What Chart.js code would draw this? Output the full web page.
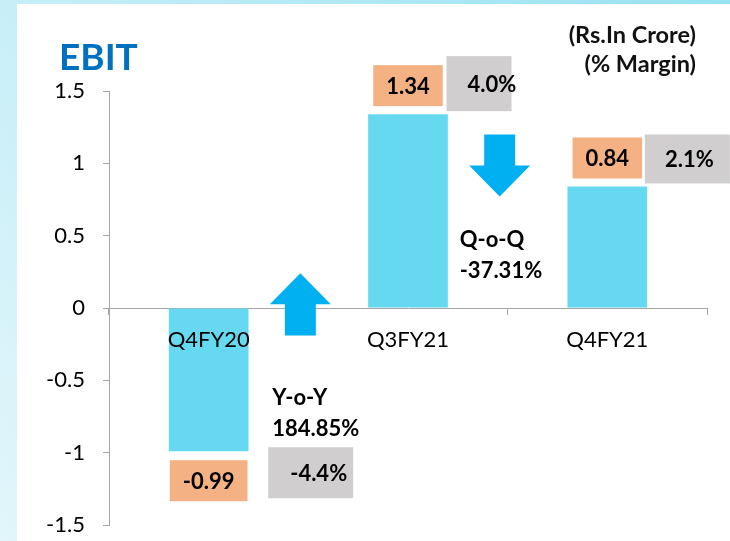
<!DOCTYPE html>
<html>
<head>
<meta charset="utf-8">
<script src="https://cdn.jsdelivr.net/npm/chart.js@4"></script>
<style>
  html, body { margin: 0; padding: 0; background: #fff; }
  #wrap { width: 730px; height: 541px; }
</style>
</head>
<body>
<div id="wrap"><canvas id="c" width="730" height="541"></canvas></div>
<script>
// data
const categories = ['Q4FY20', 'Q3FY21', 'Q4FY21'];
const ebit = [-0.99, 1.34, 0.84];
const ebitLabels = ['-0.99', '1.34', '0.84'];
const margins = ['-4.4%', '4.0%', '2.1%'];
const yTicks = [-1.5, -1, -0.5, 0, 0.5, 1, 1.5];
const changeNames = ['Y-o-Y', 'Q-o-Q'];
const changeValues = ['184.85%', '-37.31%'];
const changeDir = ['up', 'down'];

const FONT = 'Lato, "Open Sans", sans-serif';
const AXIS = '#A6A6A6';

// gray margin box placement, relative to the bar centre / orange box centre
const marginBox = [
  { dx: 102, dy: -8, w: 85, h: 51, tx: 110 },
  { dx: 71, dy: -2, w: 65, h: 55, tx: 84 },
  { dx: 80, dy: 1, w: 85, h: 49, tx: 82 }
];

function drawArrow(ctx, cx, top, bottom, dir) {
  const headW = 61, shaftW = 31, headL = 31;
  ctx.beginPath();
  if (dir === 'up') {
    ctx.moveTo(cx, top);
    ctx.lineTo(cx + headW / 2, top + headL);
    ctx.lineTo(cx + shaftW / 2, top + headL);
    ctx.lineTo(cx + shaftW / 2, bottom);
    ctx.lineTo(cx - shaftW / 2, bottom);
    ctx.lineTo(cx - shaftW / 2, top + headL);
    ctx.lineTo(cx - headW / 2, top + headL);
  } else {
    ctx.moveTo(cx, bottom);
    ctx.lineTo(cx + headW / 2, bottom - headL);
    ctx.lineTo(cx + shaftW / 2, bottom - headL);
    ctx.lineTo(cx + shaftW / 2, top);
    ctx.lineTo(cx - shaftW / 2, top);
    ctx.lineTo(cx - shaftW / 2, bottom - headL);
    ctx.lineTo(cx - headW / 2, bottom - headL);
  }
  ctx.closePath();
  ctx.fillStyle = '#00B0F0';
  ctx.fill();
}

const panelPlugin = {
  id: 'panel',
  beforeDraw(chart) {
    const ctx = chart.ctx;
    const g = ctx.createLinearGradient(730, 0, 0, 541);
    g.addColorStop(0, '#98E1F2');
    g.addColorStop(1, '#E2F6FB');
    ctx.save();
    ctx.fillStyle = g;
    ctx.fillRect(0, 0, 730, 541);
    ctx.fillStyle = '#ffffff';
    ctx.fillRect(17, 4, 713, 537);
    ctx.restore();
  }
};

const notesPlugin = {
  id: 'notes',
  afterDraw(chart) {
    const ctx = chart.ctx;
    const x = chart.scales.x, y = chart.scales.y;
    const meta = chart.getDatasetMeta(0);
    ctx.save();

    // title and unit note
    ctx.fillStyle = '#0070C0';
    ctx.font = 'bold 37px ' + FONT;
    ctx.textAlign = 'left';
    ctx.textBaseline = 'alphabetic';
    ctx.fillText('EBIT', 59, 70);

    ctx.fillStyle = '#111';
    ctx.font = 'bold 23.5px ' + FONT;
    ctx.textAlign = 'right';
    ctx.fillText('(Rs.In Crore)', 696, 43);
    ctx.fillText('(% Margin)', 696, 72);

    // value and margin boxes
    meta.data.forEach((bar, i) => {
      const v = ebit[i];
      const cx = bar.x;
      ctx.font = 'bold 22px ' + FONT;
      const tw = ctx.measureText(ebitLabels[i]).width;
      const ow = tw + 26, oh = 41;
      const cy = v >= 0 ? bar.y - 8 - oh / 2 : bar.y + 9 + oh / 2;
      ctx.fillStyle = '#F4B183';
      ctx.fillRect(cx - ow / 2, cy - oh / 2, ow, oh);

      const m = marginBox[i];
      ctx.fillStyle = '#D0CECE';
      ctx.fillRect(cx + m.dx - m.w / 2, cy + m.dy - m.h / 2, m.w, m.h);

      ctx.fillStyle = '#000';
      ctx.textAlign = 'center';
      ctx.textBaseline = 'middle';
      ctx.fillText(ebitLabels[i], cx, cy + 1);
      ctx.fillText(margins[i], cx + m.tx, cy + m.dy + 1);
    });

    // change arrows with their notes
    const arrowSpan = [[0.24, -0.19], [1.2, 0.77]];
    const noteDx = [-28, -40];
    const noteTop = [405, 247];
    changeNames.forEach((name, i) => {
      const ax = x.getPixelForValue(i + 0.5) - 8;
      drawArrow(ctx, ax, y.getPixelForValue(arrowSpan[i][0]), y.getPixelForValue(arrowSpan[i][1]), changeDir[i]);
      ctx.fillStyle = '#000';
      ctx.font = 'bold 22px ' + FONT;
      ctx.textAlign = 'left';
      ctx.textBaseline = 'alphabetic';
      ctx.fillText(name, ax + noteDx[i], noteTop[i]);
      ctx.fillText(changeValues[i], ax + noteDx[i], noteTop[i] + 31);
    });

    ctx.restore();
  }
};

const chart = new Chart(document.getElementById('c').getContext('2d'), {
  type: 'bar',
  data: {
    labels: categories,
    datasets: [{
      data: ebit,
      backgroundColor: '#66D9F0',
      borderWidth: 0,
      barPercentage: 0.4,
      categoryPercentage: 1
    }]
  },
  options: {
    responsive: false,
    animation: false,
    layout: { padding: { left: 17, top: 91, right: 23, bottom: 16 } },
    plugins: { legend: { display: false }, tooltip: { enabled: false } },
    scales: {
      x: {
        position: { y: 0 },
        grid: { drawOnChartArea: false, offset: true, tickLength: 6, color: AXIS },
        border: { color: AXIS },
        ticks: { z: 1, font: { family: FONT, size: 22 }, color: '#000', padding: 13 }
      },
      y: {
        min: -1.5,
        max: 1.5,
        afterBuildTicks(s) { s.ticks = yTicks.map(v => ({ value: v })); },
        afterFit(s) { s.width = 92; s.paddingTop = 0; s.paddingBottom = 0; },
        grid: { drawOnChartArea: false, tickLength: 6, color: AXIS },
        border: { color: AXIS },
        ticks: { font: { family: FONT, size: 22 }, color: '#000', padding: 18, callback: v => String(v) }
      }
    }
  },
  plugins: [panelPlugin, notesPlugin]
});
</script>
</body>
</html>
